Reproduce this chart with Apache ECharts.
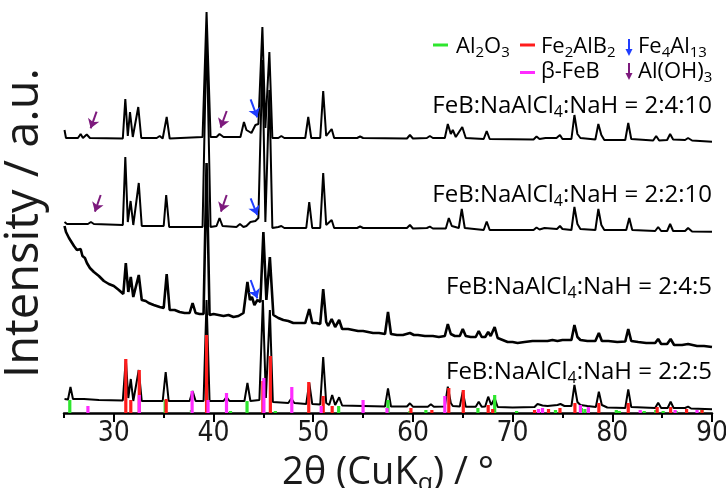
<!DOCTYPE html>
<html><head><meta charset="utf-8">
<script src="https://cdn.jsdelivr.net/npm/echarts@6/dist/echarts.min.js"></script>
<style>html,body{margin:0;padding:0;background:#fff}#c{width:726px;height:488px}</style>
</head><body><div id="c"></div>
<script>
// ---- data (2θ in degrees, intensity in arbitrary offset units) ----
const sample_2_4_10 = [[25.05,283],[25.2,275],[26.4,275],[26.67,279],[26.9,275],[27.28,278.5],[27.6,275],[30.9,274.5],[31.15,314],[31.4,277],[31.62,301],[31.9,276],[32.45,306],[32.75,275],[34.3,275],[34.6,277],[34.9,274.5],[35.3,296],[35.6,274.5],[38.9,276],[39.3,401],[39.7,276],[40.3,276],[40.6,279],[41.0,276],[42.7,276],[43.05,291],[43.3,283],[43.5,285],[43.8,280],[44.2,288],[44.5,289],[44.9,386],[45.2,285],[45.6,361],[45.9,275],[46.5,275],[46.8,277],[47.1,275],[49.2,275],[49.5,296],[49.8,275],[50.7,275],[51.0,322],[51.3,277],[51.85,284],[52.1,275],[54.4,275],[54.7,276.5],[55.0,275],[59.4,274.5],[59.7,278],[60.0,274.5],[61.4,275],[61.7,277],[62.0,275],[63.2,275],[63.5,289],[63.8,279],[64.0,283],[64.3,276],[64.95,286],[65.3,275],[67.1,274],[67.4,282],[67.7,274],[72.1,273.5],[72.4,276.5],[72.7,274],[73.3,275],[74.4,275],[74.75,278],[75.0,274],[75.9,274],[76.2,298],[76.5,279],[76.8,275],[78.3,273.5],[78.6,289],[78.9,278],[79.2,273],[81.3,273],[81.6,290],[81.9,274],[84.1,272.5],[84.4,277],[84.7,272.5],[85.5,273],[85.8,279],[86.1,273.5],[87.3,273],[87.6,275],[88.0,272.5],[90,271.3]];
const sample_2_2_10 = [[25.05,191],[25.3,189],[27.4,189],[27.7,191],[28.0,189],[30.9,188],[31.15,256],[31.4,191],[31.68,212],[31.95,188],[32.5,230],[32.8,187],[35.0,187],[35.25,218],[35.55,186],[38.9,186],[39.3,383],[39.7,186],[40.3,187],[40.6,195],[40.9,187],[42.3,186],[42.65,189],[43.0,186],[43.3,187],[43.7,191],[44.2,192],[44.5,195],[44.9,353],[45.2,191],[45.6,323],[45.9,185],[46.5,186],[46.8,187],[47.1,185],[49.3,185],[49.6,211],[49.9,185],[50.7,185],[51.0,240],[51.3,188],[51.85,193],[52.1,185],[54.4,185],[54.7,186.5],[55.0,185],[59.4,185],[59.7,188],[60.0,184.5],[61.4,185],[61.7,186.3],[62.0,184.5],[63.3,184.5],[63.6,195],[63.9,187],[64.6,185],[64.9,204],[65.2,185],[67.1,183],[67.4,191.5],[67.7,183],[72.1,183],[72.4,185.5],[72.7,183.5],[73.2,185],[74.45,184],[74.75,187],[75.0,184],[75.9,183],[76.2,206],[76.5,189],[76.8,184],[78.3,183],[78.6,204],[78.9,188],[79.2,183],[81.4,183],[81.7,195],[82.0,183],[84.3,182],[84.6,186],[84.9,182],[85.5,182],[85.8,189],[86.1,182],[87.3,182],[87.6,185],[88.0,181.5],[90,181.3]];
const sample_2_4_5 = [[25.05,187],[25.2,181],[25.5,175],[26.0,167],[26.3,163],[26.5,161],[26.67,164],[26.85,157],[27.1,155],[27.3,150],[27.6,145],[28.0,141],[28.5,137],[29.0,132],[29.5,129],[30.0,127],[30.5,123],[30.95,119],[31.2,150],[31.45,121],[31.7,136],[31.95,116],[32.5,138],[32.8,113],[33.2,112],[33.5,110],[34.0,108],[34.6,106],[35.0,105],[35.3,139],[35.6,103],[36.1,103],[36.6,101],[37.1,100],[37.6,100],[37.9,110],[38.2,100],[38.6,99],[39.0,99],[39.3,250],[39.6,98],[40.0,99],[40.5,98],[41.0,97],[41.5,98],[42.0,96],[42.5,97],[43.0,100],[43.4,131],[43.65,113],[43.85,116],[44.1,108],[44.4,113],[44.7,111],[45.0,181],[45.3,113],[45.65,156],[46.0,98],[46.5,95],[47.0,93],[47.5,92],[48.0,90],[48.6,90],[49.2,90],[49.6,104],[49.9,90],[50.3,90],[50.7,89],[51.0,124],[51.3,91],[51.5,87],[51.85,94],[52.2,86],[52.6,93],[52.9,84],[53.5,84],[54,83],[54.5,82],[55,82],[55.5,81],[56,80],[56.6,80],[57.2,79],[57.5,101],[57.8,79],[58.4,78],[59.0,78],[59.7,80],[60.1,78],[60.5,78],[61.2,77],[62,77],[62.6,76],[63.2,77],[63.5,89],[63.8,79],[64.2,77],[64.7,77],[65.0,84],[65.3,77],[65.8,76],[66.3,76],[66.6,82],[66.9,76],[67.25,76],[67.55,81],[67.8,77],[68.2,86],[68.5,75],[69.0,73],[69.5,71],[70.0,71],[70.5,70],[71.2,71],[72,72],[72.5,72],[73,72],[73.5,72],[74,73],[74.5,72],[75,73],[75.9,73],[76.2,88],[76.5,76],[76.8,73],[77.5,72],[78.3,72],[78.65,80],[78.95,72],[79.6,72],[80.5,71],[81.3,71.5],[81.6,84],[81.9,72],[82.6,71],[83.4,70],[84.3,70],[84.6,74],[84.9,69],[85.5,69],[85.85,74],[86.2,68],[87.0,68],[87.6,69],[88.5,67],[89.2,67],[90,66]];
const sample_2_2_5 = [[25.05,14],[25.4,13.5],[25.65,26],[25.9,14],[27,14],[28.5,13],[30.9,12.5],[31.2,54],[31.45,15],[31.7,34],[31.95,12],[32.5,43],[32.8,12],[34.9,12],[35.2,41],[35.5,12],[37.6,12],[37.9,22],[38.2,12],[39.0,12],[39.3,113],[39.6,12],[41.0,12],[41.3,16],[41.6,12],[43.1,12],[43.4,30],[43.7,12],[44.6,13],[44.95,113],[45.25,15],[45.65,103],[45.95,11],[47.5,10],[47.8,14.5],[48.1,10],[49.3,9],[49.6,30],[49.9,9],[50.7,8.5],[51.0,56],[51.3,10],[51.6,8],[51.9,18],[52.2,8],[52.6,15.7],[52.9,7.5],[55.0,7],[57.2,6.5],[57.5,24.7],[57.8,6.5],[59.4,6.5],[59.7,9.7],[60.0,6.3],[61.5,6.3],[61.8,8.7],[62.1,6.3],[63.2,6.5],[63.5,26.3],[63.8,10],[64.0,7],[64.7,6.5],[65.0,21.3],[65.3,6.3],[66.3,6.3],[66.6,11.3],[66.9,6.3],[67.25,6.5],[67.55,16.3],[67.85,8],[68.2,14.7],[68.5,6],[70,5.5],[72.2,6],[72.5,9],[73,7.5],[73.5,7],[74.5,8],[74.8,9],[75.2,7],[75.9,7],[76.2,28],[76.5,11],[76.8,8],[77.5,7],[78.35,6],[78.65,21.3],[78.95,8],[79.5,5.5],[81.3,5],[81.6,23.7],[81.9,6],[84.3,5],[84.6,10.3],[84.9,5],[85.55,5],[85.85,11.3],[86.15,5],[87.3,5],[87.6,6.3],[87.9,4.5],[90,3.7]];

// reference stick patterns [2θ, relative height]
const ref_Al2O3 = [[25.58,13],[35.15,13],[37.78,3],[41.7,2],[43.36,12],[46.2,2],[52.55,7],[57.5,13],[59.7,2],[61.3,3],[66.52,5],[68.2,18],[70.4,2],[74.3,3],[76.9,5],[77.25,4],[80.4,3],[80.7,2],[83.2,2],[84.36,3],[85.1,2],[86.4,2],[88.99,3]];
const ref_Fe2AlB2 = [[31.2,54],[31.7,13],[32.55,43],[35.25,14],[39.3,78],[44.95,32],[45.7,57],[49.55,31],[51.0,17],[51.9,7],[59.8,5],[61.9,3],[63.6,25],[65.05,23],[67.55,8],[68.0,4],[72.2,3],[73.6,4],[74.75,5],[76.25,10],[78.65,10],[81.6,10],[84.5,6],[85.85,6],[87.45,4],[89.0,3]];
const ref_betaFeB = [[27.4,7],[32.55,18],[37.85,22],[39.45,13],[41.3,20],[45.05,35],[47.85,26],[50.8,7],[55.0,13],[57.4,5],[63.2,17],[72.6,4],[73.0,5],[76.8,8],[77.6,6],[82.8,3],[86.3,3],[88.5,3]];

// annotation arrows: [[from 2θ, from I], [to 2θ, to I]]
const arrows_AlOH3 = [[[28.27,301.3],[27.67,284.7]],[[41.32,302],[40.71,285.3]],[[28.68,218],[28.1,201.3]],[[41.32,218],[40.74,201.3]]];
const arrows_Fe4Al13 = [[[43.72,313.7],[44.39,295.7]],[[43.72,214.7],[44.39,198]],[[43.72,133],[44.39,114.7]]];

const majorTicks = [30,40,50,60,70,80,90];
const minorTicks = [25,35,45,55,65,75,85];
const sampleLabels = ['FeB:NaAlCl_{4}:NaH = 2:4:10','FeB:NaAlCl_{4}:NaH = 2:2:10','FeB:NaAlCl_{4}:NaH = 2:4:5','FeB:NaAlCl_{4}:NaH = 2:2:5'];
const legendNames = ['Al_{2}O_{3}','Fe_{2}AlB_{2}','Fe_{4}Al_{13}','β-FeB','Al(OH)_{3}'];
const yTitle = 'Intensity / a.u.';

// ---- styling ----
const FONT = "'Open Sans','Noto Sans',sans-serif";
const TICKFONT = "'Liberation Sans Narrow','DejaVu Sans Condensed','Liberation Sans',sans-serif";
const C_GREEN = '#2ee62e', C_RED = '#ff1c1c', C_MAG = '#ff2bff', C_BLUE = '#1f3dff', C_PURP = '#7d1a7d', C_TXT = '#1a1a1a';

function richify(s){
  return s.split(/(_\{[^}]*\})/).filter(t=>t.length).map(t=>{
    if (t.startsWith('_{')) return '{s|' + t.slice(2,-1) + '}';
    return '{n|' + t + '}';
  }).join('');
}
function richStyle(size){
  return {
    n:{fontSize:size,fontFamily:FONT,color:C_TXT},
    s:{fontSize:Math.round(size*0.68),fontFamily:FONT,color:C_TXT,padding:[Math.round(size*0.55),0,0,0]}
  };
}

const labelY = [106,195,287,372];
const graphics = [];
sampleLabels.forEach((t,i)=>{
  graphics.push({type:'text', x:712, y:labelY[i], z:10,
    style:{text:richify(t), rich:richStyle(24), align:'right', verticalAlign:'middle'}});
});
// y-axis title
graphics.push({type:'text', x:25, y:223, rotation:Math.PI/2, z:10,
  style:{text:yTitle, fontSize:47, fontFamily:FONT, fill:C_TXT, align:'center', verticalAlign:'middle'}});
// legend
const legTxt = (t,x,y)=>({type:'text', x:x, y:y, z:10, style:{text:richify(t), rich:richStyle(22), align:'left', verticalAlign:'middle'}});
const legLine = (x,y,c)=>({type:'line', z:10, shape:{x1:x,y1:y,x2:x+15,y2:y}, style:{stroke:c,lineWidth:3}});
const legArrow = (x,y1,y2,c)=>({type:'group', z:10, children:[
  {type:'line', shape:{x1:x,y1:y1,x2:x,y2:y2-5}, style:{stroke:c,lineWidth:2}},
  {type:'polygon', shape:{points:[[x-3.5,y2-7],[x+3.5,y2-7],[x,y2]]}, style:{fill:c}}
]});
graphics.push(legLine(433,45,C_GREEN), legTxt(legendNames[0],456,47));
graphics.push(legLine(520,45,C_RED), legTxt(legendNames[1],541,47));
graphics.push(legArrow(629,39,56,C_BLUE), legTxt(legendNames[2],638,47));
graphics.push(legLine(520,72.5,C_MAG), legTxt(legendNames[3],541,71.5));
graphics.push(legArrow(629,63,80,C_PURP), legTxt(legendNames[4],638,71.5));

function arrowData(list){
  return list.map(a=>[{coord:a[0]},{coord:a[1]}]);
}
const lineSeries = (name,data,extra)=>Object.assign({
  name:name, type:'line', data:data, showSymbol:false, symbol:'none', animation:false,
  lineStyle:{color:'#000', width:2}, itemStyle:{color:'#000'}, z:2, silent:true
}, extra||{});
const stickSeries = (name,data,color)=>({
  name:name, type:'bar', data:data, barWidth:3.2, barGap:'-100%', animation:false,
  itemStyle:{color:color}, z:4, silent:true
});

const option = {
  animation:false,
  backgroundColor:'#fff',
  grid:{left:64, right:14, top:8, bottom:75, containLabel:false, outerBoundsMode:'none'},
  xAxis:[{
    type:'value', min:25, max:90, interval:5, position:'bottom',
    axisLine:{show:true, lineStyle:{color:'#000', width:2.5}},
    axisTick:{show:true, inside:false, length:9, lineStyle:{color:'#000', width:2}, customValues:majorTicks},
    axisLabel:{show:true, margin:7, fontSize:28, fontFamily:TICKFONT, color:C_TXT, customValues:majorTicks,
      formatter:v=> (v%10===0? String(v):'')},
    splitLine:{show:false},
    name:'{n|2θ (CuK}{s|α}{n|) / °}', nameLocation:'middle', nameGap:38,
    nameTextStyle:{rich:{n:{fontSize:38,fontFamily:FONT,color:C_TXT}, s:{fontSize:25,fontFamily:FONT,color:C_TXT,padding:[20,0,0,0]}}}
  },{
    type:'value', min:25, max:90, interval:5, position:'bottom', gridIndex:0,
    axisLine:{show:false},
    axisTick:{show:true, inside:false, length:5, lineStyle:{color:'#000', width:2}, customValues:minorTicks},
    axisLabel:{show:false}, splitLine:{show:false}
  }],
  yAxis:{
    type:'value', min:0, max:405, show:true,
    axisLine:{show:false}, axisTick:{show:false}, axisLabel:{show:false}, splitLine:{show:false}
  },
  graphic:graphics,
  series:[
    lineSeries('FeB:NaAlCl4:NaH = 2:4:10', sample_2_4_10, {markLine:{silent:true, animation:false, symbol:['none','arrow'], symbolSize:9,
      label:{show:false}, lineStyle:{color:C_PURP, width:2, type:'solid'}, data:arrowData(arrows_AlOH3)}}),
    lineSeries('FeB:NaAlCl4:NaH = 2:2:10', sample_2_2_10),
    lineSeries('FeB:NaAlCl4:NaH = 2:4:5', sample_2_4_5, {lineStyle:{color:'#000', width:2.6}, markLine:{silent:true, animation:false, symbol:['none','arrow'], symbolSize:9,
      label:{show:false}, lineStyle:{color:C_BLUE, width:2, type:'solid'}, data:arrowData(arrows_Fe4Al13)}}),
    lineSeries('FeB:NaAlCl4:NaH = 2:2:5', sample_2_2_5),
    stickSeries('Al2O3', ref_Al2O3, C_GREEN),
    stickSeries('Fe2AlB2', ref_Fe2AlB2, C_RED),
    stickSeries('β-FeB', ref_betaFeB, C_MAG)
  ]
};
const chart = echarts.init(document.getElementById('c'), null, {renderer:'canvas'});
chart.setOption(option);
</script>
</body></html>
